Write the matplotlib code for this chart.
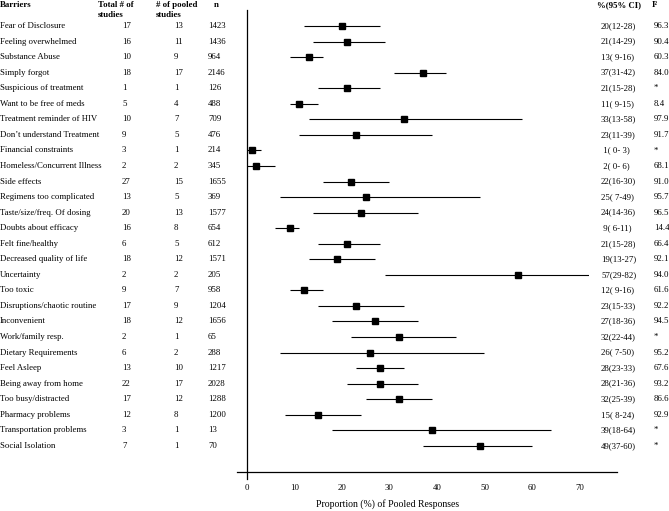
import matplotlib
matplotlib.use("Agg")
import matplotlib.pyplot as plt
import matplotlib.transforms as mtransforms

plt.rcParams['font.family'] = ['Liberation Serif', 'DejaVu Serif']

barriers = ["Fear of Disclosure", "Feeling overwhelmed", "Substance Abuse", "Simply forgot",
            "Suspicious of treatment", "Want to be free of meds", "Treatment reminder of HIV",
            "Don\u2019t understand Treatment", "Financial constraints", "Homeless/Concurrent Illness",
            "Side effects", "Regimens too complicated", "Taste/size/freq. Of dosing",
            "Doubts about efficacy", "Felt fine/healthy", "Decreased quality of life",
            "Uncertainty", "Too toxic", "Disruptions/chaotic routine", "Inconvenient",
            "Work/family resp.", "Dietary Requirements", "Feel Asleep", "Being away from home",
            "Too busy/distracted", "Pharmacy problems", "Transportation problems", "Social Isolation"]
total_studies = [17, 16, 10, 18, 1, 5, 10, 9, 3, 2, 27, 13, 20, 16, 6, 18, 2, 9, 17, 18, 2, 6, 13, 22, 17, 12, 3, 7]
pooled_studies = [13, 11, 9, 17, 1, 4, 7, 5, 1, 2, 15, 5, 13, 8, 5, 12, 2, 7, 9, 12, 1, 2, 10, 17, 12, 8, 1, 1]
n_resp = [1423, 1436, 964, 2146, 126, 488, 709, 476, 214, 345, 1655, 369, 1577, 654, 612, 1571,
          205, 958, 1204, 1656, 65, 288, 1217, 2028, 1288, 1200, 13, 70]
estimate = [20, 21, 13, 37, 21, 11, 33, 23, 1, 2, 22, 25, 24, 9, 21, 19, 57, 12, 23, 27, 32, 26, 28, 28, 32, 15, 39, 49]
ci_low = [12, 14, 9, 31, 15, 9, 13, 11, 0, 0, 16, 7, 14, 6, 15, 13, 29, 9, 15, 18, 22, 7, 23, 21, 25, 8, 18, 37]
ci_high = [28, 29, 16, 42, 28, 15, 58, 39, 3, 6, 30, 49, 36, 11, 28, 27, 82, 16, 33, 36, 44, 50, 33, 36, 39, 24, 64, 60]
i_squared = ["96.3", "90.4", "60.3", "84.0", "*", "8.4", "97.9", "91.7", "*", "68.1", "91.0", "95.7",
             "96.5", "14.4", "66.4", "92.1", "94.0", "61.6", "92.2", "94.5", "*", "95.2", "67.6",
             "93.2", "86.6", "92.9", "*", "*"]
x_ticks = [0, 10, 20, 30, 40, 50, 60, 70]
x_label = "Proportion (%) of Pooled Responses"

W, H = 669, 511
fig = plt.figure(figsize=(W / 100, H / 100), dpi=100)

# axes: x from 237px to 589px, y from 10px to 479px
L, R, T, B = 237, 589, 10, 479
ax = fig.add_axes([L / W, (H - B) / H, (R - L) / W, (B - T) / H])
row0, step = 26.0, 15.55
ax.set_xlim(-2.1, 72)
ax.set_ylim((B - row0) / step, (T - row0) / step)
axis_y = (472 - row0) / step

for s in ['top', 'right', 'bottom']:
    ax.spines[s].set_visible(False)
ax.spines['left'].set_position(('data', 0))
ax.spines['left'].set_linewidth(0.9)
ax.set_yticks([])
ax.set_xticks(x_ticks)
ax.set_xticklabels([str(t) for t in x_ticks])
ax.tick_params(axis='x', length=0, pad=3.5, labelsize=6.3)
ax.plot([-2.1, 77.9], [axis_y, axis_y], color='black', lw=0.9, clip_on=False)

rows = list(range(len(barriers)))
ax.hlines(rows, ci_low, ci_high, color='black', lw=0.8)
ax.plot(estimate, rows, 's', color='black', markersize=4.5)

ax.set_xlabel(x_label, fontsize=7, labelpad=5, x=(388 - L) / (R - L))

# text columns: x in figure fraction, y in data rows
tr = mtransforms.blended_transform_factory(fig.transFigure, ax.transData)
fs = 6.3
col_x = {'bar': 0 / W, 'tot': 122 / W, 'pool': 174 / W, 'n': 208 / W, 'ci': 601 / W, 'i2': 654 / W}
for i in rows:
    ax.text(col_x['bar'], i, barriers[i], transform=tr, fontsize=fs, va='center', ha='left', clip_on=False)
    ax.text(col_x['tot'], i, str(total_studies[i]), transform=tr, fontsize=fs, va='center', ha='left', clip_on=False)
    ax.text(col_x['pool'], i, str(pooled_studies[i]), transform=tr, fontsize=fs, va='center', ha='left', clip_on=False)
    ax.text(col_x['n'], i, str(n_resp[i]), transform=tr, fontsize=fs, va='center', ha='left', clip_on=False)
    ax.text(col_x['ci'], i, f"{estimate[i]:2d}({ci_low[i]:2d}-{ci_high[i]:2d})", transform=tr,
            fontsize=fs, va='center', ha='left', clip_on=False)
    ax.text(col_x['i2'], i, i_squared[i], transform=tr, fontsize=fs, va='center', ha='left', clip_on=False)

h1 = (5 - row0) / step
h2 = (15 - row0) / step
hdr = dict(transform=tr, fontsize=fs, fontweight='bold', va='center', ha='left', clip_on=False)
ax.text(0 / W, h1, "Barriers", **hdr)
ax.text(98 / W, h1, "Total # of", **hdr)
ax.text(98 / W, h2, "studies", **hdr)
ax.text(156 / W, h1, "# of pooled", **hdr)
ax.text(156 / W, h2, "studies", **hdr)
ax.text(214 / W, h1, "n", **hdr)
ax.text(597 / W, h1, "%(95% CI)", **hdr)
ax.text(652 / W, h1, "I\u00b2", **hdr)

fig.savefig("out.png", dpi=100)
